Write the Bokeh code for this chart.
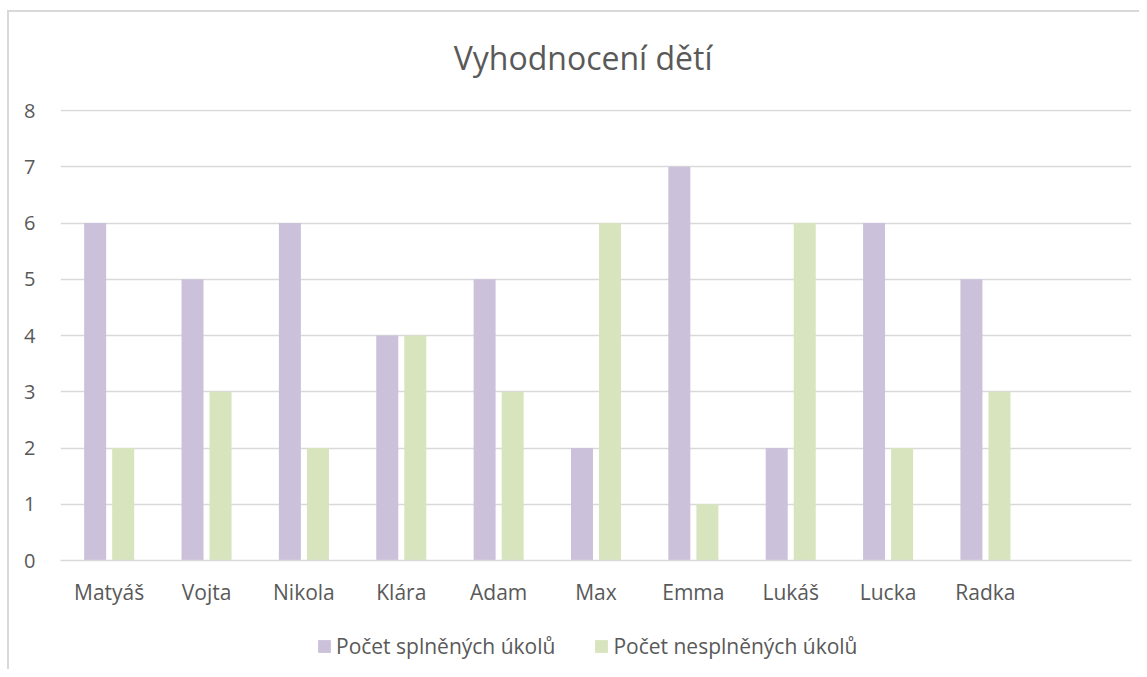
from bokeh.plotting import figure
from bokeh.layouts import column
from bokeh.models import FactorRange, Range1d, ColumnDataSource, Legend, LegendItem, Label
from bokeh.transform import dodge
from bokeh.embed import file_html
from bokeh.resources import INLINE

# ---- data ----
names = ["Matyáš", "Vojta", "Nikola", "Klára", "Adam", "Max", "Emma", "Lukáš", "Lucka", "Radka"]
completed = [6, 5, 6, 4, 5, 2, 7, 2, 6, 5]
not_completed = [2, 3, 2, 4, 3, 6, 1, 6, 2, 3]
series_names = ["Počet splněných úkolů", "Počet nesplněných úkolů"]
title_text = "Vyhodnocení dětí"
y_ticks = [0, 1, 2, 3, 4, 5, 6, 7, 8]

FONT = "Open Sans"
TXT = "#595959"
GRID = "#d9d9d9"
C1 = "#ccc1da"
C2 = "#d7e4bd"

factors = names + [" "]  # empty trailing category slot
src = ColumnDataSource(dict(name=names, done=completed, undone=not_completed))

# ---- title strip ----
ptop = figure(width=1130, height=83, output_backend="svg", toolbar_location=None,
              x_range=Range1d(0, 1), y_range=Range1d(0, 1),
              x_axis_location=None, y_axis_location=None,
              min_border=0, min_border_left=0, min_border_right=0,
              min_border_top=0, min_border_bottom=0)
ptop.grid.visible = False
ptop.outline_line_color = None
ptop.add_layout(Label(x=0.488, y=0.458, text=title_text, text_align="center",
                      text_baseline="middle", text_font=FONT, text_font_size="32px",
                      text_color=TXT))

# ---- main chart ----
p = figure(
    x_range=FactorRange(*factors, range_padding=0),
    y_range=Range1d(0, 8.02),
    width=1130, height=520,
    output_backend="svg", toolbar_location=None,
    min_border_left=51, min_border_right=8,
    min_border_top=14, min_border_bottom=55,
)

r1 = p.vbar(x=dodge("name", -0.144, range=p.x_range), top="done", width=0.226,
            source=src, fill_color=C1, line_color=None)
r2 = p.vbar(x=dodge("name", 0.144, range=p.x_range), top="undone", width=0.226,
            source=src, fill_color=C2, line_color=None)

p.outline_line_color = None
p.xgrid.grid_line_color = None
p.ygrid.grid_line_color = GRID
p.ygrid.grid_line_width = 1.5

p.yaxis.ticker = y_ticks
p.yaxis.axis_line_color = None
p.yaxis.major_tick_line_color = None
p.yaxis.minor_tick_line_color = None
p.yaxis.major_label_standoff = 19
p.yaxis.major_label_text_font = FONT
p.yaxis.major_label_text_font_size = "20px"
p.yaxis.major_label_text_color = TXT

p.xaxis.axis_line_color = GRID
p.xaxis.axis_line_width = 1.5
p.xaxis.major_tick_line_color = None
p.xaxis.minor_tick_line_color = None
p.xaxis.major_label_standoff = 11
p.xaxis.major_label_text_font = FONT
p.xaxis.major_label_text_font_size = "21px"
p.xaxis.major_label_text_color = TXT

# ---- legend strip (same series, bars kept outside its visible range) ----
p2 = figure(width=1130, height=54, output_backend="svg", toolbar_location=None,
            x_range=FactorRange(*factors, range_padding=0), y_range=Range1d(100, 101),
            x_axis_location=None, y_axis_location=None,
            min_border=0, min_border_left=0, min_border_right=0,
            min_border_top=0, min_border_bottom=0)
p2.grid.visible = False
p2.outline_line_color = None
l1 = p2.vbar(x=dodge("name", -0.144, range=p2.x_range), top="done", width=0.226,
             source=src, fill_color=C1, line_color=None)
l2 = p2.vbar(x=dodge("name", 0.144, range=p2.x_range), top="undone", width=0.226,
             source=src, fill_color=C2, line_color=None)

legend = Legend(
    items=[LegendItem(label=series_names[0], renderers=[l1]),
           LegendItem(label=series_names[1], renderers=[l2])],
    orientation="horizontal", location=(256, 9),
    label_text_font=FONT, label_text_font_size="21px", label_text_color=TXT,
    glyph_width=16, glyph_height=16, label_standoff=4, spacing=38,
    border_line_color=None, background_fill_alpha=0, padding=0, margin=0,
)
p2.add_layout(legend, "center")

layout = column(ptop, p, p2, spacing=0)
layout.styles = {"border-top": f"2px solid {GRID}", "border-left": f"2px solid {GRID}",
                 "margin-top": "10px", "margin-left": "7px"}

open("out.html", "w").write(file_html(layout, INLINE))
